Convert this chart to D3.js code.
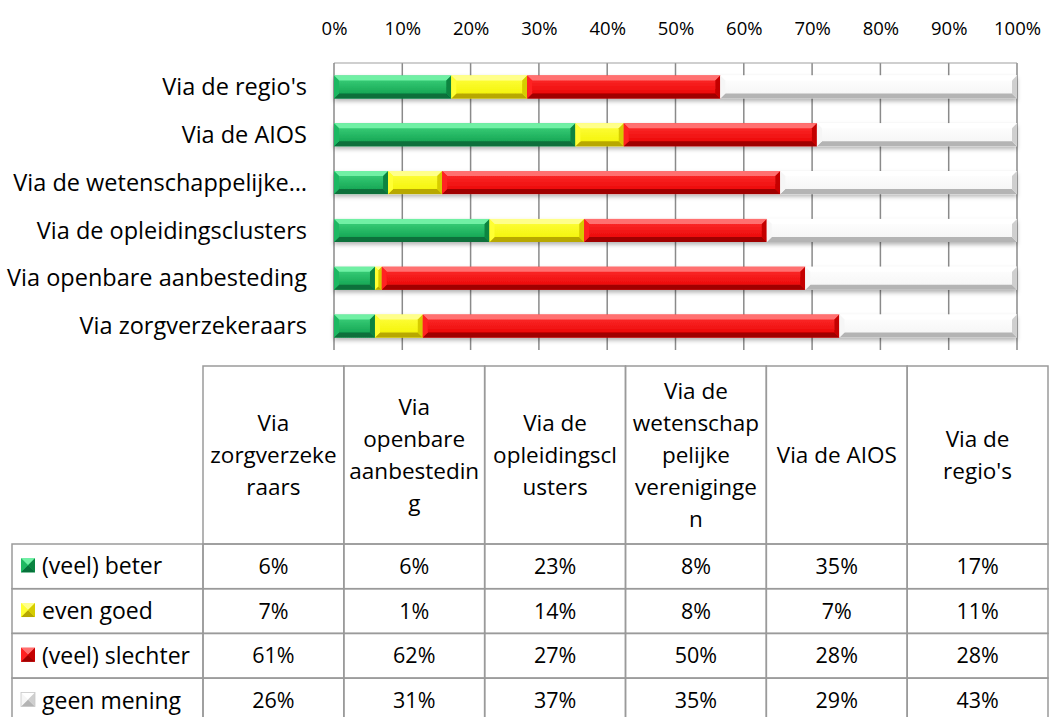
<!DOCTYPE html>
<html>
<head>
<meta charset="utf-8">
<script src="https://cdn.jsdelivr.net/npm/d3@7"></script>
<style>
  body { margin: 0; background: #fff; }
  text { font-family: "Open Sans", Lato, sans-serif; fill: #000; }
</style>
</head>
<body>
<script>
// data, in table order (left to right)
var categories = ["Via zorgverzekeraars", "Via openbare aanbesteding", "Via de opleidingsclusters",
                  "Via de wetenschappelijke verenigingen", "Via de AIOS", "Via de regio's"];
var axisLabels = ["Via zorgverzekeraars", "Via openbare aanbesteding", "Via de opleidingsclusters",
                  "Via de wetenschappelijke\u2026", "Via de AIOS", "Via de regio's"];
var headerLines = [["Via", "zorgverzeke", "raars"],
                   ["Via", "openbare", "aanbestedin", "g"],
                   ["Via de", "opleidingscl", "usters"],
                   ["Via de", "wetenschap", "pelijke", "vereniginge", "n"],
                   ["Via de AIOS"],
                   ["Via de", "regio's"]];
var seriesNames = ["(veel) beter", "even goed", "(veel) slechter", "geen mening"];
var beter      = [6, 6, 23, 8, 35, 17];
var evenGoed   = [7, 1, 14, 8, 7, 11];
var slechter   = [61, 62, 27, 50, 28, 28];
var geenMening = [26, 31, 37, 35, 29, 43];
var tickValues = [0, 0.1, 0.2, 0.3, 0.4, 0.5, 0.6, 0.7, 0.8, 0.9, 1];

var palette = [
  {face0: "#3fd57e", face1: "#0d9c4b", light: "#6ff0a4", dark: "#07703a", side: "#1fb862", rside: "#0a8441"},
  {face0: "#ffff40", face1: "#f2f200", light: "#ffff8a", dark: "#b8a800", side: "#ffff30", rside: "#d6cc00"},
  {face0: "#ff3030", face1: "#e80000", light: "#ff7070", dark: "#a00000", side: "#ff2020", rside: "#c40000"},
  {face0: "#ffffff", face1: "#f4f4f4", light: "#ffffff", dark: "#b4b4b4", side: "#f6f6f6", rside: "#cfcfcf"}
];

var width = 1063, height = 717;

var svg = d3.select("body").append("svg")
    .attr("width", width)
    .attr("height", height);

var defs = svg.append("defs");
palette.forEach(function(p, i) {
  var g = defs.append("linearGradient").attr("id", "face" + i)
      .attr("x1", 0).attr("y1", 0).attr("x2", 0).attr("y2", 1);
  g.append("stop").attr("offset", "0%").attr("stop-color", p.face0);
  g.append("stop").attr("offset", "100%").attr("stop-color", p.face1);
});
var shadow = defs.append("filter").attr("id", "shadow")
    .attr("x", "-5%").attr("y", "-30%").attr("width", "110%").attr("height", "180%");
shadow.append("feDropShadow").attr("dx", 0).attr("dy", 2.5).attr("stdDeviation", 2)
    .attr("flood-color", "#000").attr("flood-opacity", 0.3);

// rows of the stacked bar chart
var rows = categories.map(function(c, i) {
  return {cat: c, label: axisLabels[i], "(veel) beter": beter[i], "even goed": evenGoed[i],
          "(veel) slechter": slechter[i], "geen mening": geenMening[i]};
});
var stacked = d3.stack().keys(seriesNames).offset(d3.stackOffsetExpand)(rows);

var x = d3.scaleLinear().domain([0, 1]).range([334, 1017]);
var y = d3.scaleBand()
    .domain(categories.slice().reverse())
    .range([63, 350])
    .paddingInner(0.52)
    .paddingOuter(0.26);

// gridlines
svg.append("g").selectAll("line")
    .data(tickValues.slice(1))
  .enter().append("line")
    .attr("x1", function(d) { return x(d); })
    .attr("x2", function(d) { return x(d); })
    .attr("y1", 63).attr("y2", 350)
    .attr("stroke", "#8a8a8a")
    .attr("stroke-width", 1.5);
svg.append("line")
    .attr("x1", x(0)).attr("x2", x(1)).attr("y1", 63).attr("y2", 63)
    .attr("stroke", "#a0a0a0").attr("stroke-width", 1.2);
svg.append("line")
    .attr("x1", x(0)).attr("x2", x(0)).attr("y1", 63).attr("y2", 350)
    .attr("stroke", "#8a8a8a").attr("stroke-width", 1.5);

// top axis labels
var xAxis = d3.axisTop(x)
    .tickValues(tickValues)
    .tickFormat(d3.format(".0%"))
    .tickSize(0)
    .tickPadding(0);
svg.append("g")
    .attr("transform", "translate(0,35)")
    .call(xAxis)
    .call(function(g) { g.select(".domain").remove(); })
    .selectAll("text")
    .style("font-family", "'Open Sans', Lato, sans-serif")
    .style("font-size", "18.5px")
    .attr("fill", "#000");

// category labels
svg.append("g").selectAll("text")
    .data(rows)
  .enter().append("text")
    .attr("x", 307)
    .attr("y", function(d) { return y(d.cat) + y.bandwidth() / 2; })
    .attr("dy", "0.35em")
    .attr("text-anchor", "end")
    .style("font-size", "23.5px")
    .text(function(d) { return d.label; });

// bevelled box
function bevel(g, x0, x1, y0, h, p, i, b) {
  var y1 = y0 + h;
  b = Math.min(b, (x1 - x0) / 2, h / 2);
  g.append("rect").attr("x", x0).attr("y", y0).attr("width", x1 - x0).attr("height", h)
      .attr("fill", "url(#face" + i + ")");
  var polys = [
    [[x0, y0], [x1, y0], [x1 - b, y0 + b], [x0 + b, y0 + b], p.light],
    [[x0, y1], [x1, y1], [x1 - b, y1 - b], [x0 + b, y1 - b], p.dark],
    [[x0, y0], [x0 + b, y0 + b], [x0 + b, y1 - b], [x0, y1], p.side],
    [[x1, y0], [x1 - b, y0 + b], [x1 - b, y1 - b], [x1, y1], p.rside]
  ];
  polys.forEach(function(q) {
    g.append("polygon")
        .attr("points", q.slice(0, 4).map(function(pt) { return pt.join(","); }).join(" "))
        .attr("fill", q[4]);
  });
}

var barG = svg.append("g").attr("filter", "url(#shadow)");
stacked.forEach(function(layer, i) {
  layer.forEach(function(seg) {
    var g = barG.append("g").attr("class", "seg");
    bevel(g, x(seg[0]), x(seg[1]), y(seg.data.cat), y.bandwidth(), palette[i], i, 5);
  });
});

// data table
var col = d3.scaleBand().domain(categories).range([203, 1048]);
var row = d3.scaleBand().domain(seriesNames).range([544, 544 + 4 * 44.7]);
var values = [beter, evenGoed, slechter, geenMening];
var tableTop = 366;
var lineCol = "#9a9a9a";

var table = svg.append("g");

// header cells
var head = table.selectAll(".head")
    .data(categories)
  .enter().append("g")
    .attr("class", "head");
head.append("rect")
    .attr("x", function(d) { return col(d); })
    .attr("y", tableTop)
    .attr("width", col.bandwidth())
    .attr("height", 544 - tableTop)
    .attr("fill", "none")
    .attr("stroke", lineCol)
    .attr("stroke-width", 1.5);
head.each(function(d, i) {
  var lines = headerLines[i];
  var lh = 32;
  var cy = (tableTop + 544) / 2;
  var t = d3.select(this).append("text")
      .attr("text-anchor", "middle")
      .style("font-size", "22.5px");
  lines.forEach(function(l, k) {
    t.append("tspan")
        .attr("x", col(d) + col.bandwidth() / 2)
        .attr("y", cy + (k - (lines.length - 1) / 2) * lh)
        .attr("dy", "0.35em")
        .text(l);
  });
});

// body rows
seriesNames.forEach(function(s, si) {
  var ry = row(s), rh = row.bandwidth();
  table.append("rect")
      .attr("x", 12).attr("y", ry).attr("width", 203 - 12).attr("height", rh)
      .attr("fill", "none").attr("stroke", lineCol).attr("stroke-width", 1.5);
  var icon = table.append("g");
  bevel(icon, 21, 35, ry + rh / 2 - 8, 14, palette[si], si, 7);
  if (si === 3) {
    icon.append("rect").attr("x", 21).attr("y", ry + rh / 2 - 8).attr("width", 14).attr("height", 14)
        .attr("fill", "none").attr("stroke", "#c8c8c8").attr("stroke-width", 0.8);
  }
  table.append("text")
      .attr("x", 42)
      .attr("y", ry + rh / 2)
      .attr("dy", "0.35em")
      .style("font-size", "23px")
      .text(s);
  categories.forEach(function(c, ci) {
    table.append("rect")
        .attr("x", col(c)).attr("y", ry).attr("width", col.bandwidth()).attr("height", rh)
        .attr("fill", "none").attr("stroke", lineCol).attr("stroke-width", 1.5);
    table.append("text")
        .attr("x", col(c) + col.bandwidth() / 2)
        .attr("y", ry + rh / 2)
        .attr("dy", "0.35em")
        .attr("text-anchor", "middle")
        .style("font-size", "21.5px")
        .text(values[si][ci] + "%");
  });
});
</script>
</body>
</html>
